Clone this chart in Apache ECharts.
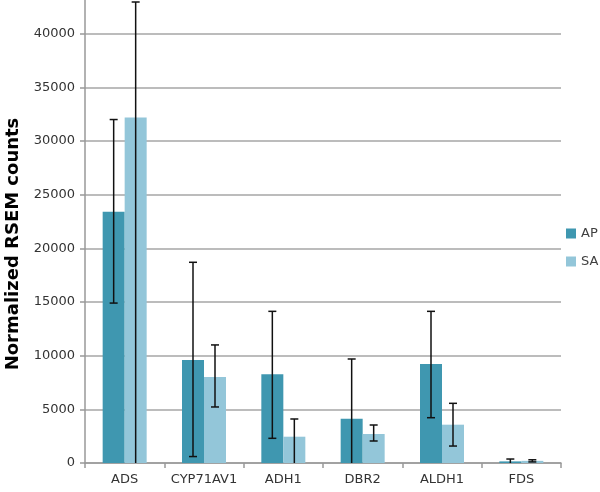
<!DOCTYPE html>
<html>
<head>
<meta charset="utf-8">
<script src="https://cdn.jsdelivr.net/npm/echarts@6/dist/echarts.min.js"></script>
<style>html,body{margin:0;padding:0;background:#fff}#c{width:600px;height:492px}</style>
</head>
<body>
<div id="c"></div>
<script>
const categories = ['ADS', 'CYP71AV1', 'ADH1', 'DBR2', 'ALDH1', 'FDS'];
const apValues = [23400, 9600, 8260, 4130, 9220, 150];
const apUpper  = [32000, 18700, 14130, 9690, 14130, 370];
const apLower  = [14900, 600, 2300, 0, 4220, 0];
const saValues = [32200, 8010, 2450, 2700, 3570, 200];
const saUpper  = [42950, 11000, 4100, 3540, 5560, 300];
const saLower  = [0, 5220, 0, 2050, 1580, 100];
const yTicks = [0, 5000, 10000, 15000, 20000, 25000, 30000, 35000, 40000];
const yTitle = 'Normalized RSEM counts';

const BAR_W = 22;
const AP_COLOR = '#3f97b0';
const SA_COLOR = '#93c6d9';

function errRender(offset) {
  return function (params, api) {
    const i = api.value(0);
    const hi = api.coord([i, api.value(1)]);
    const lo = api.coord([i, api.value(2)]);
    const x = hi[0] + offset;
    const cap = 4;
    const style = { stroke: '#111', lineWidth: 1.5 };
    const children = [
      { type: 'line', shape: { x1: x, y1: hi[1], x2: x, y2: lo[1] }, style: style },
      { type: 'line', shape: { x1: x - cap, y1: hi[1], x2: x + cap, y2: hi[1] }, style: style }
    ];
    if (api.value(2) > 0) {
      children.push({ type: 'line', shape: { x1: x - cap, y1: lo[1], x2: x + cap, y2: lo[1] }, style: style });
    }
    return { type: 'group', children: children };
  };
}

const chart = echarts.init(document.getElementById('c'));
chart.setOption({
  backgroundColor: '#ffffff',
  animation: false,
  textStyle: { fontFamily: 'DejaVu Sans' },
  graphic: [{
    type: 'text',
    x: 13, y: 244,
    rotation: Math.PI / 2,
    style: {
      text: yTitle,
      fontSize: 18, fontWeight: 'bold', fill: '#000', fontFamily: 'DejaVu Sans',
      align: 'center', verticalAlign: 'middle'
    }
  }],
  legend: {
    data: ['AP', 'SA'],
    orient: 'vertical',
    left: 566,
    top: 227,
    padding: 0,
    itemWidth: 10,
    itemHeight: 10,
    itemGap: 15,
    icon: 'rect',
    textStyle: { fontSize: 13, color: '#404040', fontFamily: 'DejaVu Sans' }
  },
  grid: { left: 85, right: 39, top: -20, bottom: 29, containLabel: false, outerBoundsMode: 'none' },
  xAxis: {
    type: 'category',
    data: categories,
    axisLine: { lineStyle: { color: '#999', width: 1.5 } },
    axisTick: { show: true, length: 5, alignWithLabel: false, lineStyle: { color: '#999', width: 1.5 } },
    axisLabel: { color: '#333', fontSize: 13, margin: 10, interval: 0, fontFamily: 'DejaVu Sans' }
  },
  yAxis: {
    type: 'value',
    min: 0,
    max: 45000,
    interval: 5000,
    axisLine: { show: true, lineStyle: { color: '#999', width: 1.5 } },
    axisTick: { show: true, length: 5, lineStyle: { color: '#999', width: 1.5 } },
    axisLabel: {
      color: '#333', fontSize: 13, margin: 10, fontFamily: 'DejaVu Sans',
      formatter: function (v) { return yTicks.indexOf(v) >= 0 ? String(v) : ''; }
    },
    splitLine: { show: true, lineStyle: { color: '#a6a6a6', width: 1.5 } }
  },
  series: [
    { name: 'AP', type: 'bar', data: apValues, barWidth: BAR_W, barGap: '0%', itemStyle: { color: AP_COLOR } },
    { name: 'SA', type: 'bar', data: saValues, barWidth: BAR_W, barGap: '0%', itemStyle: { color: SA_COLOR } },
    {
      name: 'AP err', type: 'custom', renderItem: errRender(-BAR_W / 2), z: 10,
      data: categories.map(function (c, i) { return [i, apUpper[i], apLower[i]]; })
    },
    {
      name: 'SA err', type: 'custom', renderItem: errRender(BAR_W / 2), z: 10,
      data: categories.map(function (c, i) { return [i, saUpper[i], saLower[i]]; })
    }
  ]
});
</script>
</body>
</html>
